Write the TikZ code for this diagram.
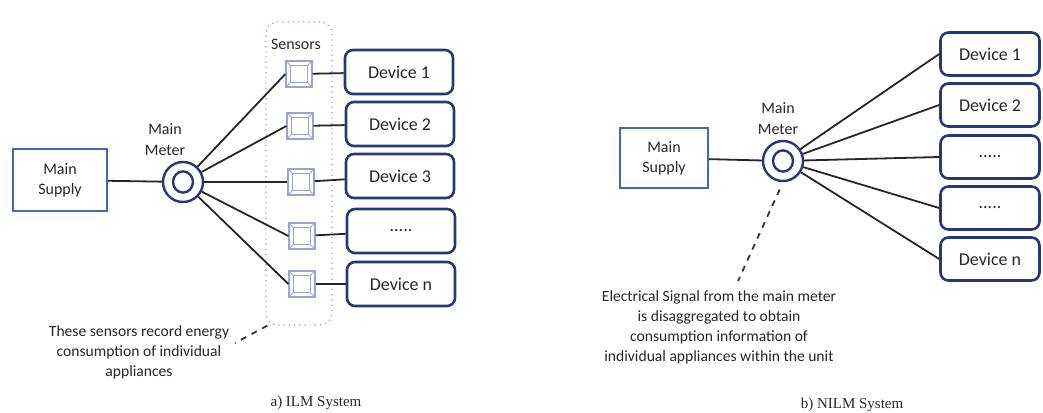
\documentclass[tikz,border=0pt]{standalone}
\usepackage{fontspec}
\setmainfont{Carlito}
\newfontfamily\capfont{Liberation Serif}
\usepackage{tikz}
\usetikzlibrary{positioning}
\definecolor{navy}{RGB}{38,56,122}
\definecolor{supplyblue}{RGB}{68,106,170}
\definecolor{sensorblue}{RGB}{150,165,210}
\definecolor{groupblue}{RGB}{140,165,215}
\tikzset{
    every node/.style={text=black!85},
    supply/.style={
        rectangle,
        draw=supplyblue, line width=1.2pt,
        minimum width=47pt,
        minimum height=31pt,
        align=center,
        font={\fontsize{8}{10}\selectfont}
    },
    device/.style={
        rectangle,
        rounded corners=4pt,
        draw=navy, line width=1.3pt,
        minimum width=54pt,
        minimum height=22pt,
        font={\fontsize{9}{11}\selectfont}
    },
    meter/.style={
        circle,
        draw=navy, line width=1.2pt,
        minimum size=20pt, inner sep=0pt,
        path picture={
            \draw[navy, line width=1.2pt] (path picture bounding box.center) ellipse (5pt and 5.3pt);
        }
    },
    sensor/.style={
        rectangle,
        draw=sensorblue, line width=0.6pt,
        fill=white,
        minimum size=13pt, inner sep=0pt,
        path picture={
            \draw[sensorblue, line width=0.5pt]
                ([shift={(2.2pt,2.2pt)}]path picture bounding box.south west) rectangle
                ([shift={(-2.2pt,-2.2pt)}]path picture bounding box.north east);
            \draw[sensorblue, line width=0.4pt]
                (path picture bounding box.south west) -- ++(2.2pt,2.2pt)
                (path picture bounding box.south east) -- ++(-2.2pt,2.2pt)
                (path picture bounding box.north west) -- ++(2.2pt,-2.2pt)
                (path picture bounding box.north east) -- ++(-2.2pt,-2.2pt);
        }
    },
    sensorgroup/.style={
        rectangle,
        rounded corners=6pt,
        draw=groupblue, dotted, line width=0.6pt,
        minimum width=33pt,
        minimum height=151.5pt
    },
    tag/.style={align=center, font={\fontsize{8}{10.5}\selectfont}},
    note/.style={align=center, font={\fontsize{7.8}{10}\selectfont}},
    subcap/.style={font={\capfont\fontsize{7.5}{9}\selectfont}},
    wire/.style={draw, line width=0.9pt, black!85},
    pointer/.style={draw, line width=0.9pt, black!80, dash pattern=on 3pt off 3pt},
}
\begin{document}
\begin{tikzpicture}[x=0.5pt, y=-0.5pt]
\useasboundingbox (0,0) rectangle (1043,412);

% a) ILM System
\node (supA) at (60,180) [supply] {Main\\Supply};
\node (metA) at (183,182) [meter] {};
\node (tagA) at (165,140) [tag] {Main\\Meter};
\node (grp) at (299,173.5) [sensorgroup] {};
\node (tagS) at (296,44) [tag] {Sensors};
\node (s1) at (299,74) [sensor] {};
\node (s2) at (300,126) [sensor] {};
\node (s3) at (301,182) [sensor] {};
\node (s4) at (302,236) [sensor] {};
\node (s5) at (302,284) [sensor] {};
\node (a1) at (399,72) [device] {Device 1};
\node (a2) at (400,124) [device] {Device 2};
\node (a3) at (400,176) [device] {Device 3};
\node (a4) at (401,231) [device] {.....};
\node (a5) at (401,284) [device] {Device n};
\draw[wire] (supA) -- (metA);
\draw[wire] (metA) -- (s1.west);
\draw[wire] (metA) -- (s2.west);
\draw[wire] (metA) -- (s3.west);
\draw[wire] (metA) -- (s4.west);
\draw[wire] (metA) -- (s5.west);
\draw[wire] (s1) -- (a1);
\draw[wire] (s2) -- (a2);
\draw[wire] (s3) -- (a3);
\draw[wire] (s4) -- (a4);
\draw[wire] (s5) -- (a5);
\node (noteA) at (139,352) [note] {These sensors record energy\\consumption of individual\\appliances};
\coordinate (endA) at (235,343);
\draw[pointer] ([shift={(1pt,0pt)}]grp.south west) -- (endA);
\node (capA) at (316,403) [subcap] {a) ILM System};

% b) NILM System
\node (supB) at (664,158) [supply, minimum width=44pt, minimum height=30pt] {Main\\Supply};
\node (metB) at (783,161) [meter] {};
\node (tagB) at (778,119) [tag] {Main\\Meter};
\node (b1) at (990,54) [device, minimum width=49.5pt, minimum height=21.5pt] {Device 1};
\node (b2) at (990,105) [device, minimum width=49.5pt, minimum height=21.5pt] {Device 2};
\node (b3) at (990,157) [device, minimum width=49.5pt, minimum height=21.5pt] {.....};
\node (b4) at (990,208) [device, minimum width=49.5pt, minimum height=21.5pt] {.....};
\node (b5) at (990,259) [device, minimum width=49.5pt, minimum height=21.5pt] {Device n};
\draw[wire] (supB) -- (metB);
\draw[wire] (metB) -- (b1.west);
\draw[wire] (metB) -- (b2.west);
\draw[wire] (metB) -- (b3.west);
\draw[wire] (metB) -- (b4.west);
\draw[wire] (metB) -- (b5.west);
\node (noteB) at (719,327) [note] {Electrical Signal from the main meter\\is disaggregated to obtain\\consumption information of\\individual appliances within the unit};
\coordinate (endB) at (738,281);
\draw[pointer, shorten <=4pt] (metB.south) -- (endB);
\node (capB) at (852,405) [subcap] {b) NILM System};
\end{tikzpicture}
\end{document}
